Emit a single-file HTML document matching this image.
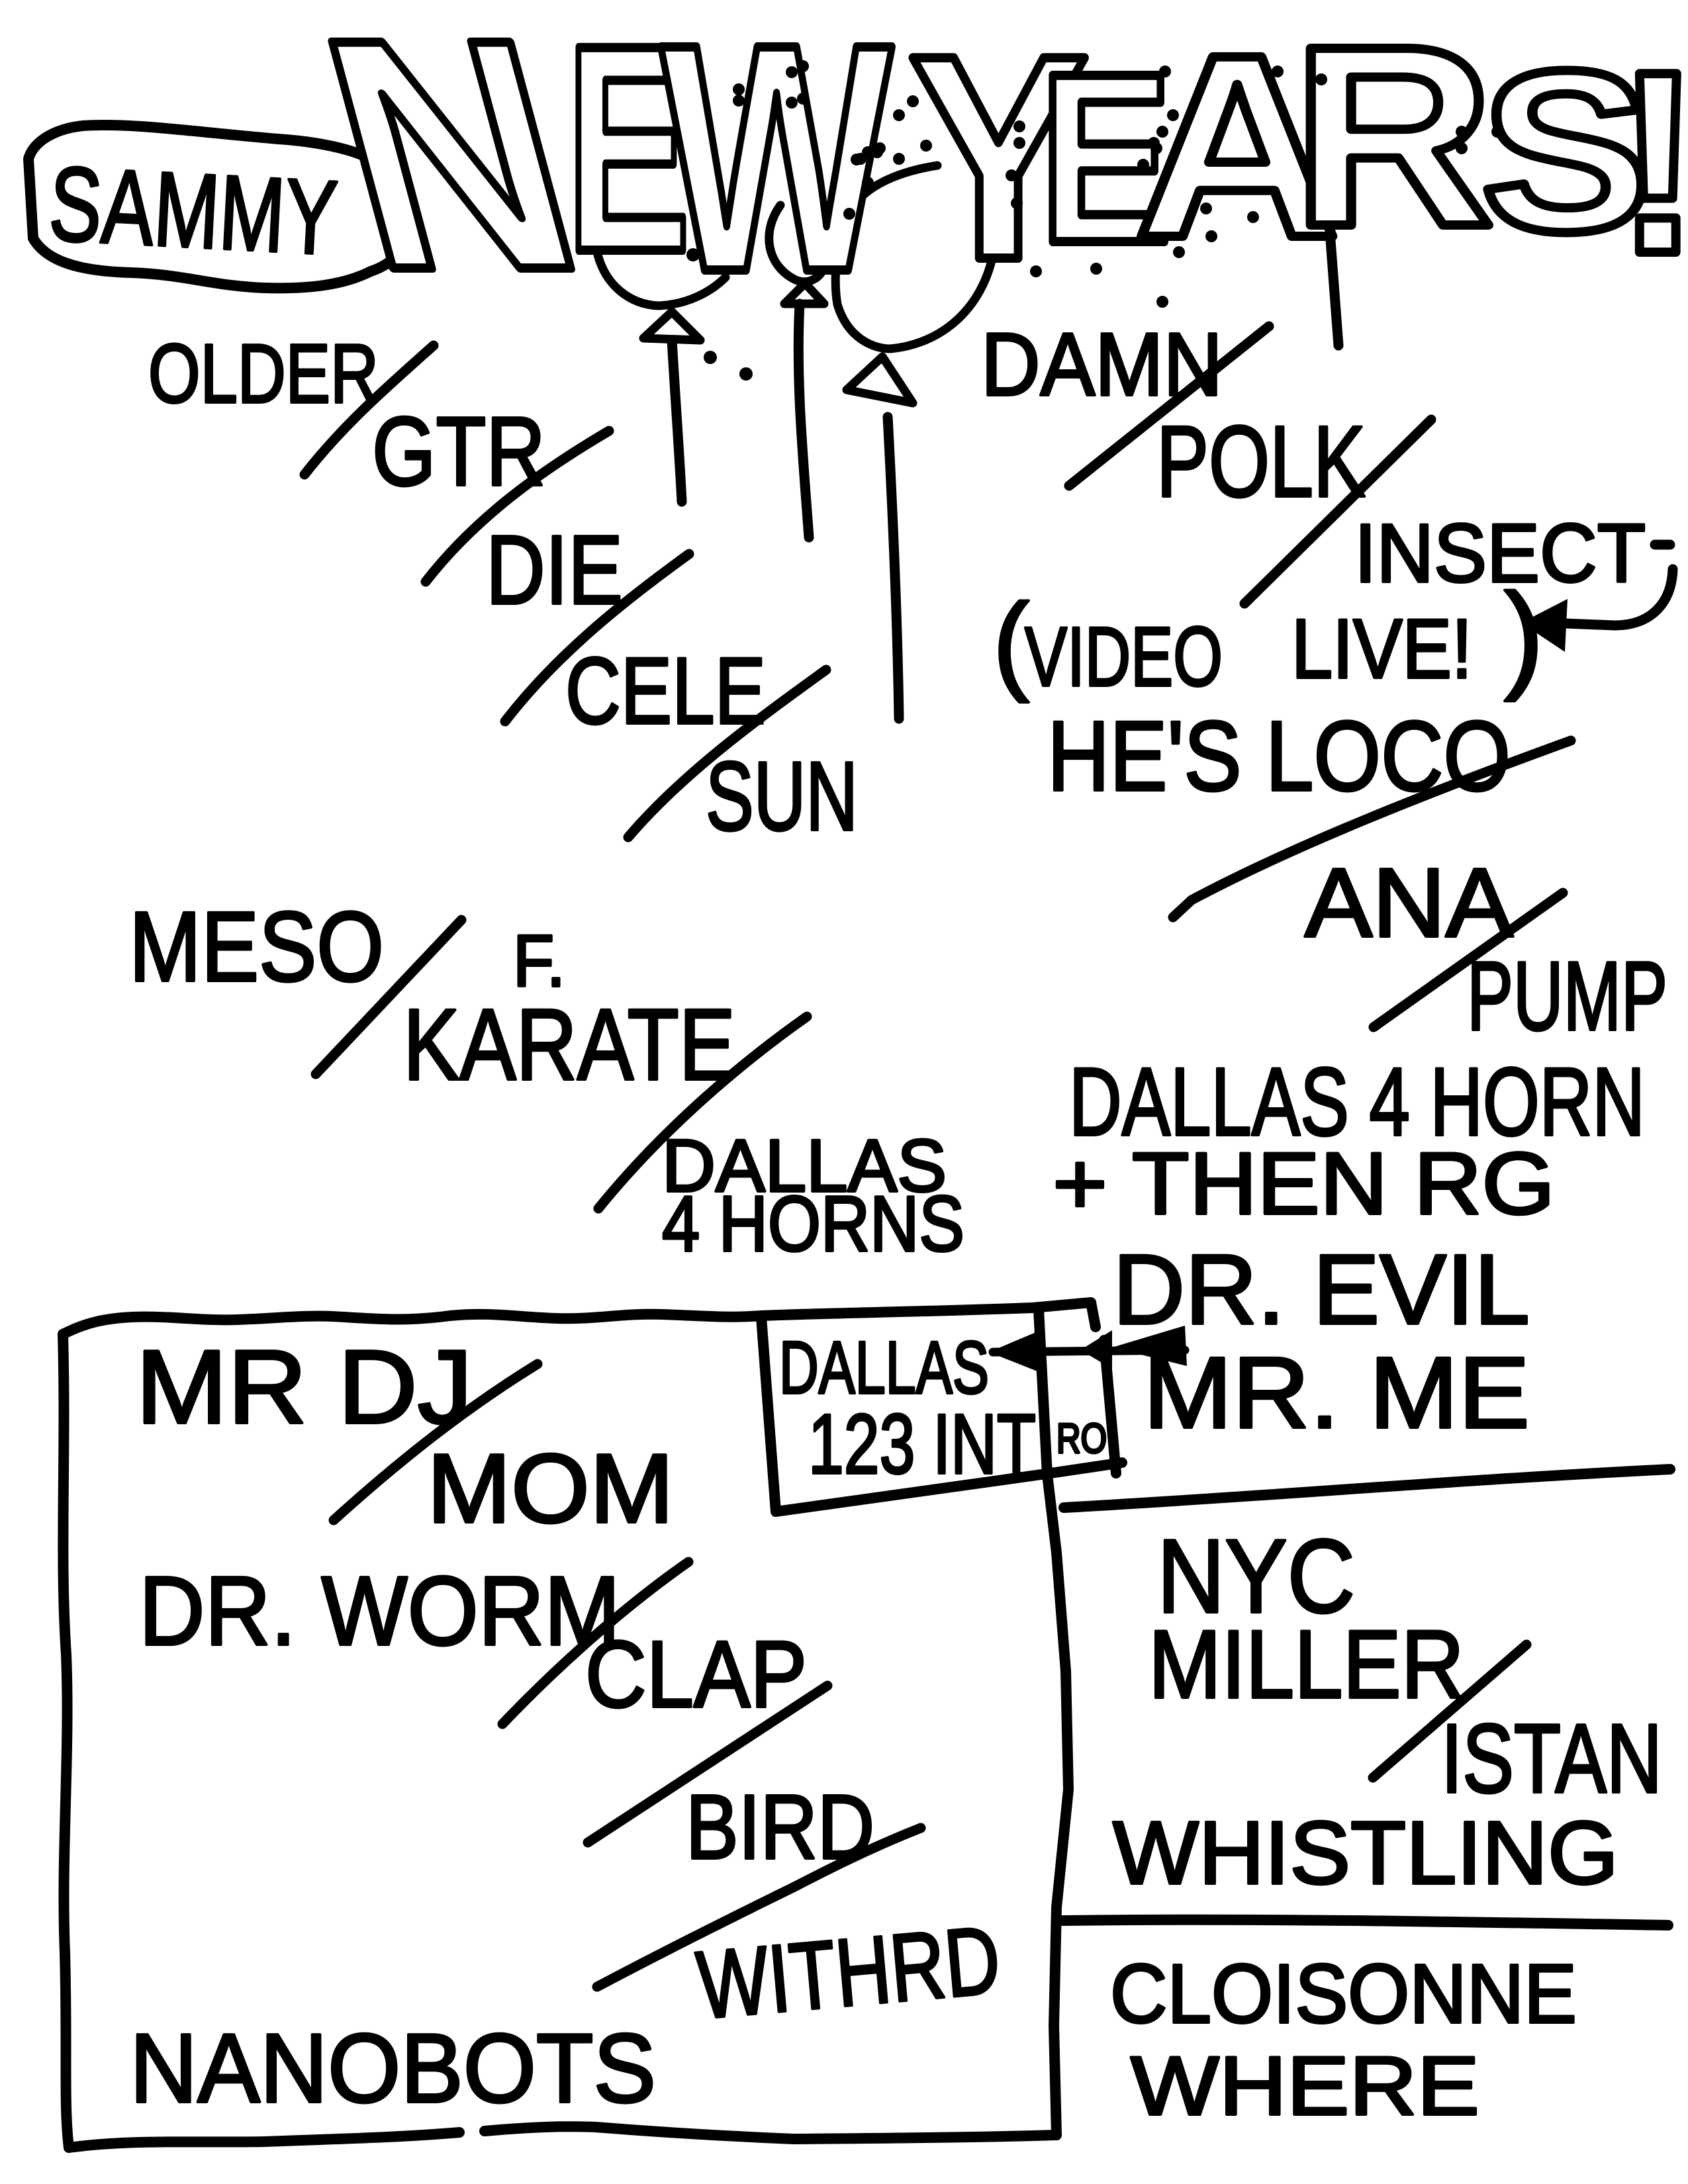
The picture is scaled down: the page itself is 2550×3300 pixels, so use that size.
<!DOCTYPE html>
<html>
<head>
<meta charset="utf-8">
<style>
html,body{margin:0;padding:0;background:#fff;}
svg{display:block;}
.t{font-family:"Liberation Sans",sans-serif;font-weight:normal;fill:#000;stroke:#000;stroke-width:4;stroke-linejoin:round;}
.h{font-family:"Liberation Sans",sans-serif;font-weight:bold;fill:#fff;stroke:#000;stroke-width:14;stroke-linejoin:round;}
.l{fill:none;stroke:#000;stroke-width:15;stroke-linecap:round;stroke-linejoin:round;}
.b{fill:none;stroke:#000;stroke-width:16;stroke-linecap:round;stroke-linejoin:round;}
.m{fill:none;stroke:#000;stroke-width:13;stroke-linecap:round;stroke-linejoin:round;}
.d{fill:#000;}
</style>
</head>
<body>
<svg width="2550" height="3300" viewBox="0 0 2550 3300" xmlns="http://www.w3.org/2000/svg">
<rect width="2550" height="3300" fill="#fff"/>

<!-- balloons (behind letters) -->
<path class="m" d="M903,385 C915,430 950,460 995,462 C1040,460 1075,440 1096,419"/>
<path class="m" d="M1179,310 C1150,350 1158,400 1200,422 C1220,432 1236,420 1242,410"/>
<path class="m" d="M1311,285 C1272,325 1255,400 1265,460 C1280,510 1318,527 1345,527 C1420,520 1480,470 1499,390"/>
<path class="m" d="M1283,320 C1300,290 1340,262 1416,250"/>
<polygon class="m" points="972,511 1015,471 1058,514"/>
<polygon class="m" points="1185,459 1216,428 1245,459"/>
<polygon class="m" points="1279,589 1333,539 1379,609"/>
<path class="l" d="M1015,514 C1020,600 1026,680 1030,758"/>
<path class="l" d="M1208,459 C1202,574 1213,689 1222,812"/>
<path class="l" d="M1341,630 C1350,800 1356,950 1358,1086"/>
<path class="l" d="M2009,350 L2022,522"/>

<!-- SAMMY bubble -->
<path class="b" style="fill:#fff" d="M43,240 C50,215 80,195 125,190 C200,185 300,200 420,210 C480,214 530,225 560,240 C600,255 618,290 616,340 C614,380 590,400 560,410 C520,430 470,437 400,435 C320,432 280,415 200,412 C120,410 70,395 50,360 Z"/>
<text class="t" x="72" y="362" font-size="160" textLength="435" lengthAdjust="spacingAndGlyphs" transform="rotate(3 72 362)">SAMMY</text>

<!-- NEW YEARS! -->
<text class="h" transform="translate(563,405) skewX(15)" x="0" y="0" font-size="496" textLength="330" lengthAdjust="spacingAndGlyphs">N</text>
<text class="h" x="855" y="378" font-size="445" textLength="188" lengthAdjust="spacingAndGlyphs">E</text>
<text class="h" x="998" y="408" font-size="490" textLength="350" lengthAdjust="spacingAndGlyphs">W</text>
<text class="h" x="1372" y="390" font-size="440" textLength="273" lengthAdjust="spacingAndGlyphs">Y</text>
<text class="h" x="1570" y="365" font-size="365" textLength="201" lengthAdjust="spacingAndGlyphs">E</text>
<text class="h" x="1714" y="357" font-size="394" textLength="310" lengthAdjust="spacingAndGlyphs">A</text>
<text class="h" x="1952" y="340" font-size="388" textLength="305" lengthAdjust="spacingAndGlyphs">R</text>
<text class="h" x="2237" y="348" font-size="346" textLength="258" lengthAdjust="spacingAndGlyphs">S</text>
<text class="h" x="2440" y="381" font-size="392" textLength="130" lengthAdjust="spacingAndGlyphs">!</text>

<!-- confetti dots -->
<g class="d">
<circle cx="1358" cy="174" r="9"/><circle cx="1379" cy="153" r="9"/><circle cx="1300" cy="240" r="9"/>
<circle cx="1329" cy="224" r="9"/><circle cx="1358" cy="240" r="9"/><circle cx="1399" cy="220" r="9"/>
<circle cx="1283" cy="323" r="9"/><circle cx="1540" cy="191" r="9"/><circle cx="1540" cy="216" r="9"/>
<circle cx="1528" cy="265" r="9"/><circle cx="1536" cy="307" r="9"/><circle cx="1760" cy="108" r="9"/>
<circle cx="1772" cy="174" r="9"/><circle cx="1756" cy="199" r="9"/><circle cx="1743" cy="216" r="9"/>
<circle cx="1727" cy="249" r="9"/><circle cx="1747" cy="224" r="9"/><circle cx="1822" cy="315" r="9"/>
<circle cx="1781" cy="381" r="9"/><circle cx="1830" cy="357" r="9"/><circle cx="1893" cy="328" r="9"/>
<circle cx="1930" cy="108" r="9"/><circle cx="1996" cy="120" r="9"/><circle cx="2208" cy="199" r="9"/>
<circle cx="2208" cy="224" r="9"/><circle cx="2262" cy="199" r="9"/><circle cx="1565" cy="410" r="9"/>
<circle cx="1656" cy="406" r="9"/><circle cx="1756" cy="456" r="9"/><circle cx="1196" cy="109" r="9"/>
<circle cx="1213" cy="100" r="9"/><circle cx="1116" cy="135" r="9"/><circle cx="1116" cy="152" r="9"/>
<circle cx="1196" cy="155" r="9"/><circle cx="1213" cy="149" r="9"/><circle cx="1294" cy="241" r="9"/>
<circle cx="1311" cy="230" r="9"/><circle cx="1325" cy="230" r="9"/><circle cx="1311" cy="276" r="9"/>
<circle cx="1047" cy="385" r="10"/><circle cx="1073" cy="540" r="10"/><circle cx="1127" cy="565" r="10"/>
</g>

<!-- left column top -->
<text class="t" x="224" y="608" font-size="126" textLength="348" lengthAdjust="spacingAndGlyphs">OLDER</text>
<path class="l" d="M655,522 C590,580 520,640 460,717"/>
<text class="t" x="562" y="733" font-size="148" textLength="262" lengthAdjust="spacingAndGlyphs">GTR</text>
<path class="l" d="M920,651 C820,710 720,780 643,879"/>
<text class="t" x="734" y="912" font-size="148" textLength="207" lengthAdjust="spacingAndGlyphs">DIE</text>
<path class="l" d="M1041,837 C940,910 840,990 763,1090"/>
<text class="t" x="854" y="1093" font-size="143" textLength="303" lengthAdjust="spacingAndGlyphs">CELE</text>
<path class="l" d="M1248,1012 C1140,1090 1030,1170 949,1265"/>
<text class="t" x="1066" y="1254" font-size="148" textLength="230" lengthAdjust="spacingAndGlyphs">SUN</text>

<!-- right column top -->
<text class="t" x="1482" y="597" font-size="135" textLength="365" lengthAdjust="spacingAndGlyphs">DAMN</text>
<path class="l" d="M1917,493 L1615,734"/>
<text class="t" x="1747" y="750" font-size="153" textLength="316" lengthAdjust="spacingAndGlyphs">POLK</text>
<path class="l" d="M2162,634 L1880,912"/>
<text class="t" x="2046" y="879" font-size="125" textLength="440" lengthAdjust="spacingAndGlyphs">INSECT</text>
<path class="l" d="M2500,823 L2523,823"/>
<text class="t" x="1500" y="1027" font-size="165">(</text>
<text class="t" x="1548" y="1036" font-size="127" textLength="299" lengthAdjust="spacingAndGlyphs">VIDEO</text>
<text class="t" x="1951" y="1024" font-size="127" textLength="273" lengthAdjust="spacingAndGlyphs">LIVE!</text>
<text class="t" x="2272" y="1022" font-size="180">)</text>
<path class="l" d="M2527,860 C2525,915 2490,945 2440,945 L2340,941"/>
<polygon class="d" points="2298,941 2368,905 2364,985"/>
<text class="t" x="1582" y="1194" font-size="150" textLength="700" lengthAdjust="spacingAndGlyphs">HE'S LOCO</text>
<path class="l" d="M2373,1119 C2150,1200 1950,1280 1800,1360 L1772,1386"/>
<text class="t" x="1971" y="1415" font-size="148" textLength="315" lengthAdjust="spacingAndGlyphs">ANA</text>
<path class="l" d="M2361,1349 L2075,1552"/>
<text class="t" x="2216" y="1556" font-size="148" textLength="303" lengthAdjust="spacingAndGlyphs">PUMP</text>
<text class="t" x="1615" y="1715" font-size="146" textLength="870" lengthAdjust="spacingAndGlyphs">DALLAS 4 HORN</text>
<text class="t" x="1590" y="1834" font-size="133" textLength="759" lengthAdjust="spacingAndGlyphs">+ THEN RG</text>
<text class="t" x="1681" y="2000" font-size="150" textLength="630" lengthAdjust="spacingAndGlyphs">DR. EVIL</text>
<text class="t" x="1727" y="2157" font-size="153" textLength="584" lengthAdjust="spacingAndGlyphs">MR. ME</text>

<!-- middle left -->
<text class="t" x="195" y="1482" font-size="150" textLength="385" lengthAdjust="spacingAndGlyphs">MESO</text>
<path class="l" d="M697,1390 L477,1623"/>
<text class="t" x="775" y="1490" font-size="110" textLength="79" lengthAdjust="spacingAndGlyphs">F.</text>
<text class="t" x="609" y="1631" font-size="153" textLength="502" lengthAdjust="spacingAndGlyphs">KARATE</text>
<path class="l" d="M1219,1536 C1100,1620 990,1720 904,1826"/>
<text class="t" x="1000" y="1800" font-size="112" textLength="430" lengthAdjust="spacingAndGlyphs">DALLAS</text>
<text class="t" x="1000" y="1890" font-size="119" textLength="457" lengthAdjust="spacingAndGlyphs">4 HORNS</text>

<!-- big box -->
<path class="b" d="M95,2016 C130,1998 160,1992 200,1990 C260,1988 300,1996 360,1994 C420,1992 460,1986 520,1990 C580,1994 620,1996 680,1988 C740,1982 780,1990 840,1992 C900,1994 940,1984 1000,1986 C1060,1988 1100,1992 1150,1988 C1250,1984 1400,1982 1560,1976 L1648,1968 L1655,2005"/>
<path class="b" d="M95,2016 C100,2200 90,2350 100,2500 C106,2650 92,2800 98,2950 C102,3100 96,3180 104,3245"/>
<path class="b" d="M104,3245 C200,3232 300,3238 400,3236 C500,3232 600,3230 694,3222"/>
<path class="b" d="M732,3220 C800,3214 850,3212 900,3214 C1000,3222 1100,3228 1200,3232 C1450,3230 1530,3228 1596,3226"/>
<path class="b" d="M1569,1979 L1582,2228 L1596,2346 L1610,2525 L1614,2704 L1596,2882 L1592,3061 L1596,3226"/>
<!-- small DALLAS box -->
<path class="b" d="M1150,1990 L1172,2284 L1587,2226 L1695,2210"/>
<path class="b" d="M1668,2025 L1686,2226"/>
<text class="t" x="1177" y="2105" font-size="112" textLength="317" lengthAdjust="spacingAndGlyphs">DALLAS</text>
<text class="t" x="1221" y="2226" font-size="128" textLength="344" lengthAdjust="spacingAndGlyphs">123 INT</text>
<text class="t" x="1596" y="2195" font-size="63" textLength="76" lengthAdjust="spacingAndGlyphs">RO</text>
<!-- arrows into box -->
<path class="m" d="M1790,2040 L1500,2043"/>
<polygon class="d" points="1494,2043 1572,2010 1572,2074"/>
<polygon class="d" points="1632,2040 1680,2010 1680,2068"/>
<polygon class="d" points="1680,2036 1790,2003 1793,2064"/>

<!-- box contents -->
<text class="t" x="205" y="2150" font-size="158" textLength="509" lengthAdjust="spacingAndGlyphs">MR DJ</text>
<path class="l" d="M812,2061 C700,2130 600,2210 504,2297"/>
<text class="t" x="645" y="2300" font-size="148" textLength="373" lengthAdjust="spacingAndGlyphs">MOM</text>
<text class="t" x="210" y="2485" font-size="148" textLength="727" lengthAdjust="spacingAndGlyphs">DR. WORM</text>
<path class="l" d="M1040,2360 C940,2430 840,2520 759,2605"/>
<text class="t" x="884" y="2579" font-size="143" textLength="335" lengthAdjust="spacingAndGlyphs">CLAP</text>
<path class="l" d="M1250,2547 L888,2784"/>
<text class="t" x="1036" y="2808" font-size="138" textLength="285" lengthAdjust="spacingAndGlyphs">BIRD</text>
<path class="l" d="M1200,2851 C1100,2900 1000,2950 902,3002"/>
<path class="l" d="M1391,2762 C1320,2790 1260,2820 1200,2851"/>
<text class="t" x="1058" y="3050" font-size="145" textLength="458" lengthAdjust="spacingAndGlyphs" transform="rotate(-5 1058 3050)">WITHRD</text>
<text class="t" x="196" y="3176" font-size="148" textLength="795" lengthAdjust="spacingAndGlyphs">NANOBOTS</text>

<!-- lower right -->
<path class="b" d="M1607,2278 C1900,2262 2200,2236 2523,2220"/>
<text class="t" x="1748" y="2436" font-size="158" textLength="299" lengthAdjust="spacingAndGlyphs">NYC</text>
<text class="t" x="1735" y="2565" font-size="146" textLength="477" lengthAdjust="spacingAndGlyphs">MILLER</text>
<path class="l" d="M2306,2485 L2074,2686"/>
<text class="t" x="2177" y="2708" font-size="148" textLength="334" lengthAdjust="spacingAndGlyphs">ISTAN</text>
<text class="t" x="1681" y="2846" font-size="135" textLength="764" lengthAdjust="spacingAndGlyphs">WHISTLING</text>
<path class="b" d="M1605,2902 C1900,2898 2200,2904 2520,2909"/>
<text class="t" x="1677" y="3056" font-size="126" textLength="705" lengthAdjust="spacingAndGlyphs">CLOISONNE</text>
<text class="t" x="1708" y="3195" font-size="126" textLength="527" lengthAdjust="spacingAndGlyphs">WHERE</text>
</svg>
</body>
</html>
